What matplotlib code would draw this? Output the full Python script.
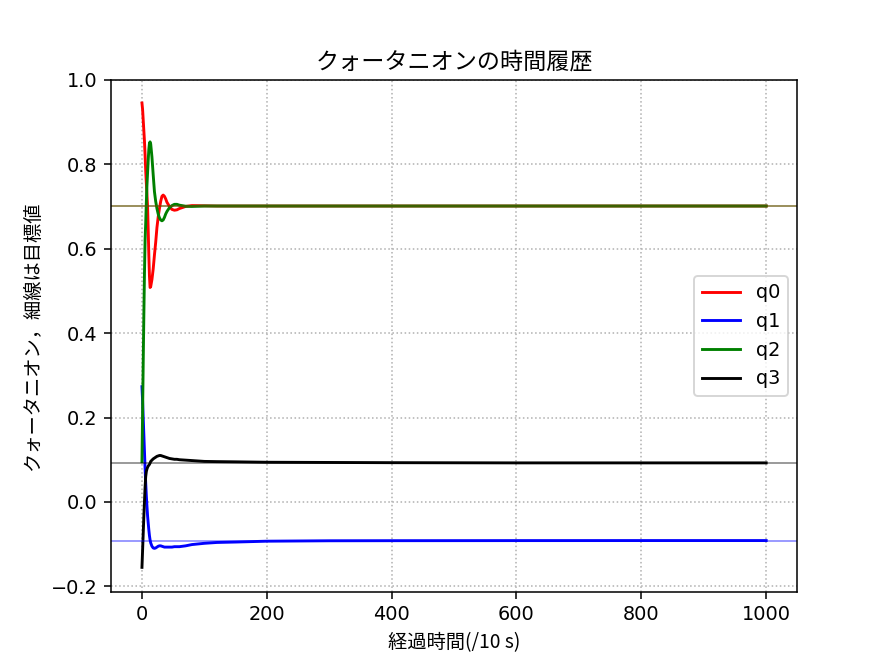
import matplotlib

matplotlib.use('Agg')
import matplotlib.pyplot as plt

JP = ['Noto Sans CJK JP', 'DejaVu Sans']

# sample times (steps of 1/10 s)
t = [0, 1, 2, 3, 4, 5, 6, 7, 8, 9, 10, 11, 12, 13, 14, 16, 18, 20, 22, 24,
     26, 28, 30, 32, 34, 36, 38, 40, 44, 48, 52, 56, 60, 70, 80, 100, 120,
     150, 200, 300, 400, 600, 800, 1000]

q0 = [0.945, 0.930, 0.905, 0.880, 0.855, 0.822, 0.785, 0.755, 0.728, 0.700,
      0.645, 0.585, 0.535, 0.508, 0.510, 0.527, 0.552, 0.585, 0.615, 0.650,
      0.675, 0.695, 0.712, 0.724, 0.727, 0.724, 0.718, 0.710, 0.700, 0.693,
      0.691, 0.692, 0.695, 0.700, 0.702, 0.7015, 0.701, 0.701, 0.701, 0.701,
      0.701, 0.701, 0.701, 0.701]
q1 = [0.273, 0.240, 0.200, 0.160, 0.120, 0.080, 0.045, 0.015, -0.010, -0.033,
      -0.050, -0.066, -0.080, -0.090, -0.097, -0.105, -0.109, -0.110, -0.109,
      -0.107, -0.105, -0.104, -0.104, -0.105, -0.106, -0.107, -0.107, -0.107,
      -0.107, -0.107, -0.106, -0.106, -0.106, -0.104, -0.101, -0.098, -0.096,
      -0.095, -0.093, -0.092, -0.0918, -0.0916, -0.0915, -0.0915]
q2 = [0.095, 0.210, 0.330, 0.440, 0.540, 0.620, 0.660, 0.710, 0.750, 0.780,
      0.810, 0.835, 0.850, 0.853, 0.848, 0.817, 0.775, 0.735, 0.712, 0.695,
      0.682, 0.673, 0.668, 0.666, 0.668, 0.674, 0.682, 0.688, 0.697, 0.702,
      0.705, 0.705, 0.703, 0.7005, 0.700, 0.701, 0.701, 0.701, 0.701, 0.701,
      0.701, 0.701, 0.701, 0.701]
q3 = [-0.155, -0.115, -0.075, -0.035, 0.000, 0.035, 0.060, 0.072, 0.078, 0.082,
      0.085, 0.087, 0.089, 0.092, 0.096, 0.099, 0.102, 0.104, 0.106, 0.108,
      0.109, 0.110, 0.110, 0.109, 0.108, 0.107, 0.106, 0.105, 0.103, 0.102,
      0.101, 0.101, 0.100, 0.099, 0.098, 0.096, 0.0955, 0.095, 0.094, 0.0935,
      0.093, 0.0925, 0.0925, 0.0925]

# target quaternion (thin lines)
target = [0.700, -0.0916, 0.700, 0.0923]

names = ['q0', 'q1', 'q2', 'q3']
colors = ['r', 'b', 'g', 'k']

fig, ax = plt.subplots(figsize=(886 / 138.5, 665 / 138.5), dpi=138.5)

for q, name, c in zip([q0, q1, q2, q3], names, colors):
    ax.plot(t, q, color=c, label=name)
for v, c in zip(target, colors):
    ax.axhline(v, color=c, linewidth=0.8, alpha=0.5)

ax.set_ylim(-0.213, 1.0)
ax.grid(linestyle=':')
ax.legend(loc='center right')

ax.set_title('クォータニオンの時間履歴', family=JP, fontsize=12)
ax.set_xlabel('経過時間(/10 s)', family=JP)
ax.set_ylabel('クォータニオン，細線は目標値', family=JP)

fig.savefig('out.png', dpi=138.5)
